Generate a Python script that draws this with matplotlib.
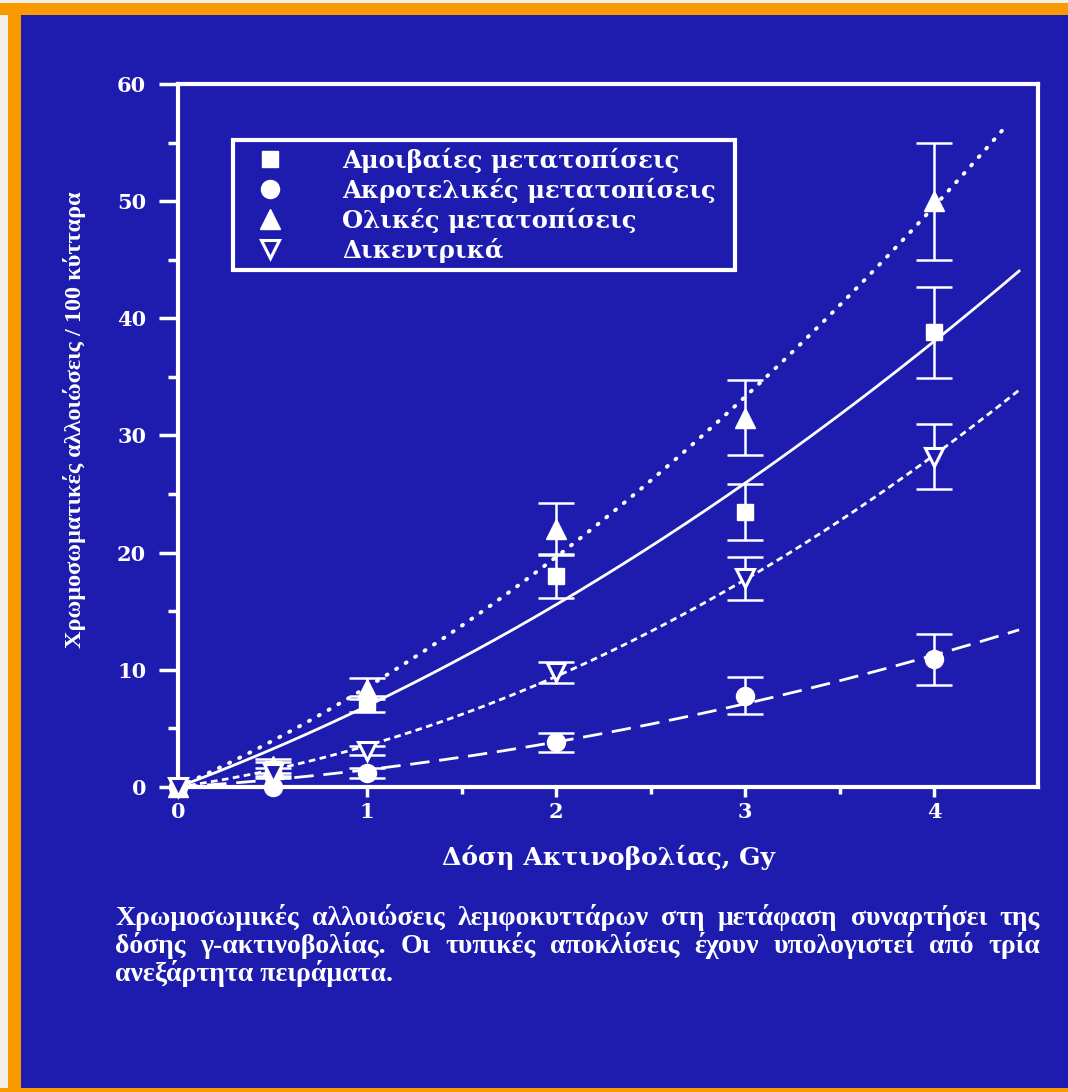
import numpy as np
import matplotlib
matplotlib.use("Agg")
import matplotlib.pyplot as plt
from matplotlib.lines import Line2D
from matplotlib.patches import Rectangle

# ---- data: chromosome aberrations per 100 cells vs gamma dose (Gy) ----
dose = [0.0, 0.5, 1.0, 2.0, 3.0, 4.0]

reciprocal = [0.0, 1.5, 7.1, 18.0, 23.5, 38.8]        # Αμοιβαίες μετατοπίσεις
reciprocal_sd = [0.0, 0.6, 0.7, 1.9, 2.4, 3.9]

terminal = [0.0, 0.0, 1.2, 3.8, 7.8, 10.9]            # Ακροτελικές μετατοπίσεις
terminal_sd = [0.0, 0.0, 0.4, 0.8, 1.6, 2.2]

total = [0.0, 1.8, 8.4, 22.0, 31.5, 50.0]             # Ολικές μετατοπίσεις
total_sd = [0.0, 0.6, 0.9, 2.2, 3.2, 5.0]

dicentric = [0.0, 1.2, 3.1, 9.8, 17.8, 28.2]          # Δικεντρικά
dicentric_sd = [0.0, 0.4, 0.4, 0.9, 1.8, 2.8]

labels = ["Αμοιβαίες μετατοπίσεις", "Ακροτελικές μετατοπίσεις",
          "Ολικές μετατοπίσεις", "Δικεντρικά"]

x_ticks = [0, 1, 2, 3, 4]
y_ticks = [0, 10, 20, 30, 40, 50, 60]

x_label = "Δόση Ακτινοβολίας, Gy"
y_label = "Χρωμοσωματικές αλλοιώσεις / 100 κύτταρα"
caption_lines = [
    "Χρωμοσωμικές αλλοιώσεις λεμφοκυττάρων στη μετάφαση συναρτήσει της",
    "δόσης γ-ακτινοβολίας. Οι τυπικές αποκλίσεις έχουν υπολογιστεί από τρία",
    "ανεξάρτητα πειράματα.",
]

# ---- style ----
BLUE = "#1e1cae"
ORANGE = "#f99a00"
WHITE = "white"
SERIF_WIDE = ["DejaVu Serif"]
SERIF = ["Liberation Serif", "DejaVu Serif"]

fig = plt.figure(figsize=(10.68, 10.92), dpi=100, facecolor=BLUE)

# frame around the slide
fig.add_artist(Rectangle((0, 0), 8 / 1068, 1, transform=fig.transFigure,
                         facecolor="#f4efe6", edgecolor="none", zorder=-5))
fig.add_artist(Rectangle((8 / 1068, 0), 13 / 1068, 1, transform=fig.transFigure,
                         facecolor=ORANGE, edgecolor="none", zorder=-4))
fig.add_artist(Rectangle((0, 1 - 15 / 1092), 1, 12 / 1092, transform=fig.transFigure,
                         facecolor=ORANGE, edgecolor="none", zorder=-4))
fig.add_artist(Rectangle((0, 1 - 3 / 1092), 1, 3 / 1092, transform=fig.transFigure,
                         facecolor="#f4efe6", edgecolor="none", zorder=-4))
fig.add_artist(Rectangle((0, 0), 1, 4 / 1092, transform=fig.transFigure,
                         facecolor=ORANGE, edgecolor="none", zorder=-4))

ax = fig.add_axes([0.1667, 0.2793, 0.8052, 0.6438])
ax.set_facecolor(BLUE)
ax.set_xlim(0, 4.55)
ax.set_ylim(0, 60)

for sp in ax.spines.values():
    sp.set_color(WHITE)
    sp.set_linewidth(3)

ax.set_xticks(x_ticks)
ax.set_xticks([0.5, 1.5, 2.5, 3.5], minor=True)
ax.set_yticks(y_ticks)
ax.set_yticks(np.arange(5, 60, 10), minor=True)
ax.tick_params(axis="x", which="major", direction="out", length=7, width=2.5,
               color=WHITE, labelcolor=WHITE, pad=4)
ax.tick_params(axis="x", which="minor", direction="out", length=5, width=2.5, color=WHITE)
ax.tick_params(axis="y", which="major", direction="out", length=14, width=2.5,
               color=WHITE, labelcolor=WHITE, pad=9)
ax.tick_params(axis="y", which="minor", direction="out", length=7, width=2.5, color=WHITE)
for lab in ax.get_xticklabels() + ax.get_yticklabels():
    lab.set_fontfamily(SERIF_WIDE)
    lab.set_fontweight("bold")
    lab.set_fontsize(15)


def lq_fit(x, y):
    """Least-squares linear-quadratic dose response y = a*D + b*D^2."""
    x = np.asarray(x)
    A = np.column_stack([x, x ** 2])
    coef, *_ = np.linalg.lstsq(A, np.asarray(y), rcond=None)
    return coef


series = [
    (reciprocal, reciprocal_sd, dict(marker="s", ms=12, mfc=WHITE, mec=WHITE),
     dict(ls="-", lw=2.0), 4.45),
    (terminal, terminal_sd, dict(marker="o", ms=13, mfc=WHITE, mec=WHITE),
     dict(ls=(0, (7, 3.5)), lw=2.0), 4.45),
    (total, total_sd, dict(marker="^", ms=15, mfc=WHITE, mec=WHITE),
     dict(ls=(0, (0.3, 2.6)), lw=2.8, dash_capstyle="round"), 4.37),
    (dicentric, dicentric_sd, dict(marker="v", ms=13, mfc=BLUE, mec=WHITE, mew=2.2),
     dict(ls=(0, (2.4, 1.6)), lw=2.0), 4.45),
]

for y, sd, mstyle, lstyle, x_end in series:
    a, b = lq_fit(dose, y)
    xs = np.linspace(0, x_end, 200)
    ax.plot(xs, a * xs + b * xs ** 2, color=WHITE, zorder=2, **lstyle)
    ax.errorbar(dose, y, yerr=sd, fmt="none", ecolor=WHITE, elinewidth=1.8,
                capsize=13, capthick=1.8, zorder=3, clip_on=False)
    ax.plot(dose, y, ls="none", zorder=4, clip_on=False, **mstyle)

handles = [Line2D([], [], ls="none", **s[2]) for s in series]
leg = ax.legend(handles, labels, loc="upper left",
                bbox_to_anchor=(0.064, 0.738, 0.584, 0.182), mode="expand",
                frameon=True, fancybox=False, framealpha=1, borderaxespad=0,
                borderpad=0.3, labelspacing=0.2, handletextpad=1.8,
                handlelength=2.4,
                prop=dict(family=SERIF_WIDE, weight="bold", size=17.5))
leg.get_frame().set_facecolor(BLUE)
leg.get_frame().set_edgecolor(WHITE)
leg.get_frame().set_linewidth(3)
for t in leg.get_texts():
    t.set_color(WHITE)

ax.set_xlabel(x_label, color=WHITE, fontfamily=SERIF_WIDE, fontweight="bold",
              fontsize=18, labelpad=16)
fig.text(75 / 1068, 1 - 420 / 1092, y_label, rotation=90, color=WHITE,
         fontfamily=SERIF, fontweight="bold", fontsize=17.5, ha="center", va="center")

# justified caption block (words share one baseline per line)
renderer = fig.canvas.get_renderer()
left_px, right_px = 115, 1040
baseline_px = [925, 953, 981]
cap_kw = dict(color=WHITE, fontfamily=SERIF, fontweight="bold", fontsize=20,
              va="baseline", ha="left")
for i, line in enumerate(caption_lines):
    yfig = 1 - baseline_px[i] / 1092
    words = line.split(" ")
    if i == len(caption_lines) - 1:
        fig.text(left_px / 1068, yfig, line, **cap_kw)
        continue
    arts = [fig.text(0, yfig, w, **cap_kw) for w in words]
    widths = [t.get_window_extent(renderer).width for t in arts]
    gap = (right_px - left_px - sum(widths)) / (len(words) - 1)
    x = left_px
    for t, w in zip(arts, widths):
        t.set_x(x / 1068)
        x += w + gap

fig.savefig("out.png", dpi=100, facecolor=BLUE)
